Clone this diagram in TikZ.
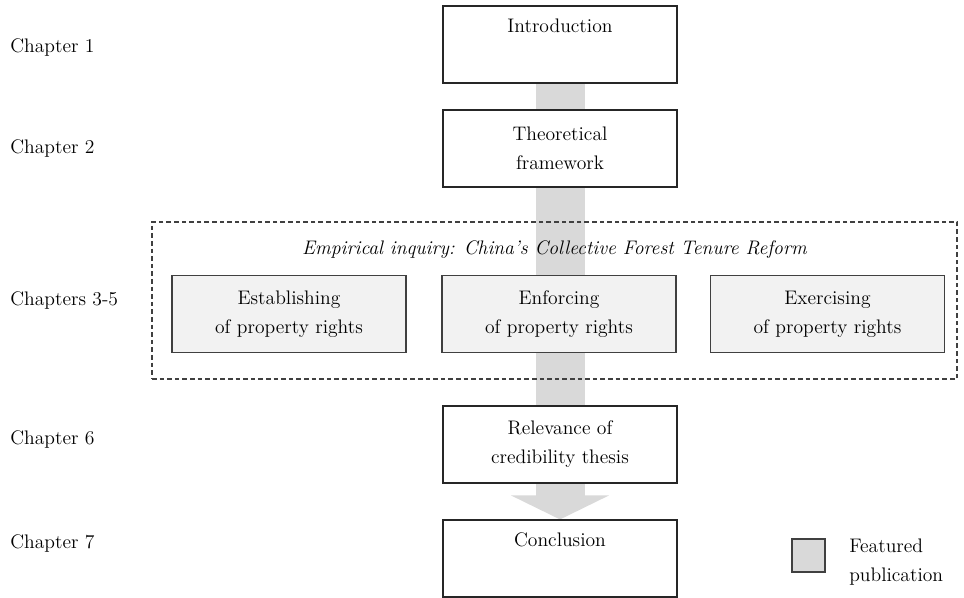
\documentclass[tikz,border=0pt]{standalone}
\usetikzlibrary{arrows.meta,backgrounds}
\definecolor{flowgray}{HTML}{D9D9D9}
\definecolor{subfill}{HTML}{F2F2F2}
\definecolor{edgegray}{HTML}{404040}
\begin{document}
\begin{tikzpicture}[
    x=0.75pt,
    y=-0.75pt,
    font=\fontsize{14.7pt}{21.75pt}\selectfont,
    chapbox/.style={draw=black!85,fill=white,line width=0.8pt,
        minimum width=175.5pt,minimum height=57.75pt,align=center,inner sep=3pt},
    partbox/.style={chapbox,draw=edgegray,fill=subfill},
    chaplabel/.style={anchor=west,inner sep=0pt},
    flow/.style={flowgray,line width=36.75pt,line cap=butt,
        -{Triangle[length=18pt,width=72.75pt]}}
]
    \useasboundingbox (0,0) rectangle (964,598);

    % Chapter labels
    \node[chaplabel] (ch1) at (10,48) {Chapter 1};
    \node[chaplabel] (ch2) at (10,149) {Chapter 2};
    \node[chaplabel] (ch35) at (10,301) {Chapters 3-5};
    \node[chaplabel] (ch6) at (10,440) {Chapter 6};
    \node[chaplabel] (ch7) at (10,544) {Chapter 7};

    % Main chain
    \node[chapbox] (intro) at (560,44.5) {Introduction\\\strut};
    \node[chapbox] (theory) at (560,148.5) {Theoretical\\framework};
    \node[chapbox] (relev) at (560,444.5) {Relevance of\\credibility thesis};
    \node[chapbox] (concl) at (560,558.5) {Conclusion\\\strut};

    % Empirical part
    \node[draw=edgegray,line width=0.8pt,dash pattern=on 3.4pt off 2.3pt,
        minimum width=603.75pt,minimum height=117.75pt] (inquiry) at (554.5,300.5) {};
    \node[font=\fontsize{14.7pt}{21.75pt}\selectfont\itshape] (inqtitle) at (554.5,250)
        {Empirical inquiry: China’s Collective Forest Tenure Reform};
    \node[partbox] (establish) at (289,314) {Establishing\\of property rights};
    \node[partbox] (enforce) at (559,314) {Enforcing\\of property rights};
    \node[partbox] (exercise) at (827.5,314) {Exercising\\of property rights};

    % Legend
    \node[draw=edgegray,fill=flowgray,line width=0.8pt,minimum size=24.75pt,
        inner sep=0pt] (legkey) at (808.5,555.5) {};
    \node[anchor=west,align=left,inner sep=0pt] (legtext) at (849,562.5)
        {Featured\\publication};

    \begin{scope}[on background layer]
        \draw[flow] (intro.south) -- (concl.north);
    \end{scope}
\end{tikzpicture}
\end{document}
